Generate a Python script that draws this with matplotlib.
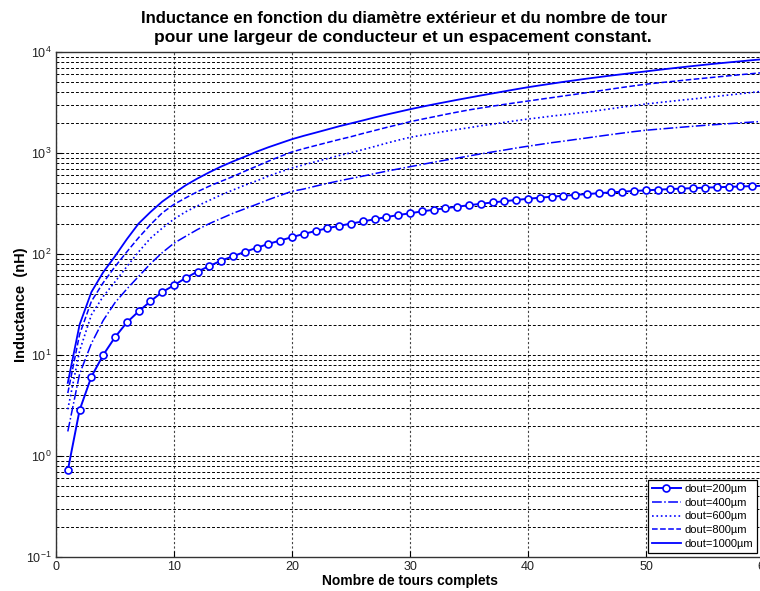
import numpy as np
import matplotlib
matplotlib.use("Agg")
import matplotlib.pyplot as plt
from matplotlib.ticker import LogLocator

# number of complete turns
turns = np.arange(1, 61)

# inductance (nH), one value per turn
L200 = [0.72, 2.85, 6.1, 10, 15, 21, 27, 34, 42, 49, 58, 67, 76, 86, 95, 105, 115, 126, 136, 147,
        158, 169, 180, 190, 200, 210, 221, 232, 243, 253, 264, 274, 284, 294, 304, 314, 324, 333, 343, 352,
        361, 369, 377, 385, 392, 400, 407, 414, 421, 427, 433, 439, 444, 449, 454, 458, 462, 466, 470, 474]
L400 = [1.75, 6.5, 13, 22, 33, 45, 60, 80, 103, 128, 150, 175, 200, 225, 253, 280, 310, 345, 380, 418,
        440, 470, 500, 530, 560, 590, 625, 660, 695, 732, 770, 810, 850, 890, 935, 980, 1025, 1070, 1120, 1168,
        1215, 1265, 1310, 1360, 1410, 1465, 1520, 1575, 1630, 1680, 1720, 1760, 1800, 1840, 1880, 1915, 1950, 1990, 2025, 2060]
L600 = [2.9, 11, 25, 38, 53, 75, 105, 143, 180, 222, 262, 300, 340, 385, 430, 480, 530, 590, 650, 710,
        765, 820, 880, 945, 1007, 1080, 1160, 1250, 1340, 1430, 1500, 1570, 1640, 1710, 1780, 1860, 1930, 2010, 2090, 2170,
        2240, 2320, 2390, 2470, 2550, 2640, 2740, 2850, 2950, 3055, 3150, 3240, 3340, 3430, 3530, 3640, 3750, 3860, 3980, 4100]
L800 = [4.2, 16, 34, 52, 75, 105, 145, 195, 255, 310, 360, 415, 470, 525, 585, 660, 740, 830, 925, 1025,
        1105, 1185, 1270, 1360, 1450, 1560, 1670, 1790, 1910, 2040, 2160, 2280, 2410, 2540, 2670, 2790, 2910, 3030, 3150, 3270,
        3400, 3530, 3670, 3810, 3960, 4120, 4290, 4460, 4630, 4800, 4940, 5080, 5220, 5370, 5510, 5660, 5810, 5960, 6110, 6260]
L1000 = [5.3, 20, 42, 66, 95, 140, 200, 260, 330, 400, 480, 560, 645, 735, 825, 920, 1030, 1140, 1250, 1370,
         1480, 1590, 1710, 1840, 1965, 2100, 2250, 2400, 2550, 2710, 2870, 3030, 3190, 3360, 3530, 3710, 3890, 4080, 4280, 4480,
         4670, 4860, 5060, 5250, 5450, 5640, 5840, 6030, 6230, 6430, 6640, 6850, 7060, 7270, 7480, 7690, 7890, 8090, 8300, 8500]

labels = ["dout=200µm", "dout=400µm", "dout=600µm", "dout=800µm", "dout=1000µm"]

plt.rcParams['font.family'] = ['Liberation Sans', 'DejaVu Sans']

fig = plt.figure(figsize=(7.6, 5.91), dpi=100)
ax = fig.add_axes([56 / 760, 1 - 557 / 591, 708 / 760, 505 / 591])

blue = (0, 0, 1)
ax.semilogy(turns, L200, 'o-', color=blue, lw=1.4, ms=5, mfc='white', mew=1.2, label=labels[0])
ax.semilogy(turns, L400, '-.', color=blue, lw=1.1, label=labels[1])
ax.semilogy(turns, L600, ':', color=blue, lw=1.2, label=labels[2])
ax.semilogy(turns, L800, '--', color=blue, lw=1.1, label=labels[3])
ax.semilogy(turns, L1000, '-', color=blue, lw=1.3, label=labels[4])

ax.set_xlim(0, 60)
ax.set_ylim(1e-1, 1e4)
ax.set_xticks(range(0, 61, 10))
ax.yaxis.set_major_locator(LogLocator(base=10, numticks=10))
ax.yaxis.set_minor_locator(LogLocator(base=10, subs=np.arange(2, 10), numticks=20))

# matlab style dotted grid
ax.grid(True, which='major', axis='x', color='#444444', linestyle=(0, (2, 2)), lw=0.8)
ax.grid(True, which='both', axis='y', color='black', linestyle=(0, (3, 2)), lw=0.7)

ax.tick_params(which='both', direction='in', labelsize=9, colors='black')
ax.tick_params(which='minor', length=0)
ax.tick_params(which='major', length=4, pad=3)
for lbl in ax.get_xticklabels() + ax.get_yticklabels():
    lbl.set_color('#222222')
for s in ax.spines.values():
    s.set_color('#333333')
    s.set_linewidth(1.0)

ax.set_xlabel("Nombre de tours complets", fontsize=10, fontweight='bold')
ax.xaxis.label.set_va('center')
ax.xaxis.set_label_coords(0.5, -0.0485)
ax.set_ylabel("Inductance  (nH)", fontsize=10.5, fontweight='bold')
ax.yaxis.label.set_va('center')
ax.yaxis.set_label_coords(-0.05, 0.5)

fig.text(0.532, 0.969, "Inductance en fonction du diamètre extérieur et du nombre de tour",
         ha='center', va='center', fontsize=12, fontweight='bold')
fig.text(0.530, 0.936, "pour une largeur de conducteur et un espacement constant.",
         ha='center', va='center', fontsize=12.5, fontweight='bold')

leg = ax.legend(loc='upper left', bbox_to_anchor=(0.836, 0.153), fontsize=8,
                fancybox=False, framealpha=1, edgecolor='black', borderaxespad=0,
                handlelength=2.6, handletextpad=0.35, labelspacing=0.35, borderpad=0.35)
leg.get_frame().set_linewidth(0.9)

fig.savefig("out.png", dpi=100)
